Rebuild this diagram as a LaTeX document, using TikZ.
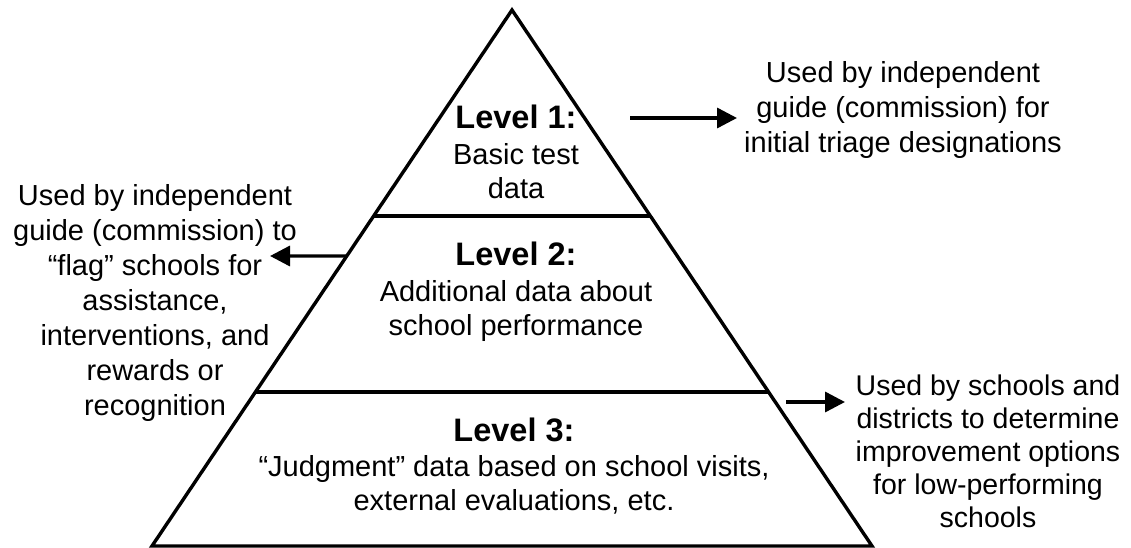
\documentclass[tikz,border=0pt]{standalone}
\usepackage{fontspec}
\setmainfont{Liberation Sans}
\usetikzlibrary{arrows.meta,calc}
\begin{document}
\begin{tikzpicture}[x=1pt,y=-1pt,
  edge/.style={line width=3.4pt, line join=miter},
  sep/.style={line width=3.4pt},
  arr/.style={line width=3.4pt, -{Triangle[length=20pt,width=20pt]}},
  title/.style={font=\fontsize{32.5}{38}\selectfont\bfseries, anchor=base, inner sep=0pt},
  desc/.style={font=\fontsize{29}{34}\selectfont, align=center, anchor=base, inner sep=0pt},
]
\useasboundingbox (0,0) rectangle (1131,548);
\coordinate (apex) at (512,10);
\coordinate (bl) at (152,546);
\coordinate (br) at (872,546);
\draw[edge] (bl) -- (apex) -- (br) -- cycle;
\draw[sep] ($(apex)!0.3843!(bl)$) -- ($(apex)!0.3843!(br)$);
\draw[sep] ($(apex)!0.7127!(bl)$) -- ($(apex)!0.7127!(br)$);

% base anchor of a multi-line node = baseline of its last line
\node[title] (t1) at (516,129) {Level 1:};
\node[desc] (d1) at (516,198) {Basic test\\data};
\node[title] (t2) at (516,265) {Level 2:};
\node[desc] (d2) at (516,335) {Additional data about\\school performance};
\node[title] (t3) at (514,441) {Level 3:};
\node[desc] (d3) at (514,510) {“Judgment” data based on school visits,\\external evaluations, etc.};

\node[desc, font=\fontsize{29}{35}\selectfont] (r1) at (903,153) {Used by independent\\guide (commission) for\\initial triage designations};
\node[desc, font=\fontsize{29}{35}\selectfont] (l2) at (155,415) {Used by independent\\guide (commission) to\\“flag” schools for\\assistance,\\interventions, and\\rewards or\\recognition};
\node[desc, font=\fontsize{28.5}{33}\selectfont] (r3) at (988,527) {Used by schools and\\districts to determine\\improvement options\\for low-performing\\schools};

\coordinate (a1s) at (630,118);
\coordinate (a1e) at (737,118);
\coordinate (a2s) at ($(apex)!0.459!(bl)$);
\coordinate (a2e) at (270,256);
\coordinate (a3s) at (786,402);
\coordinate (a3e) at (845,402);
\draw[arr] (a1s) -- (a1e);
\draw[arr] (a2s) -- (a2e);
\draw[arr] (a3s) -- (a3e);
\end{tikzpicture}
\end{document}
